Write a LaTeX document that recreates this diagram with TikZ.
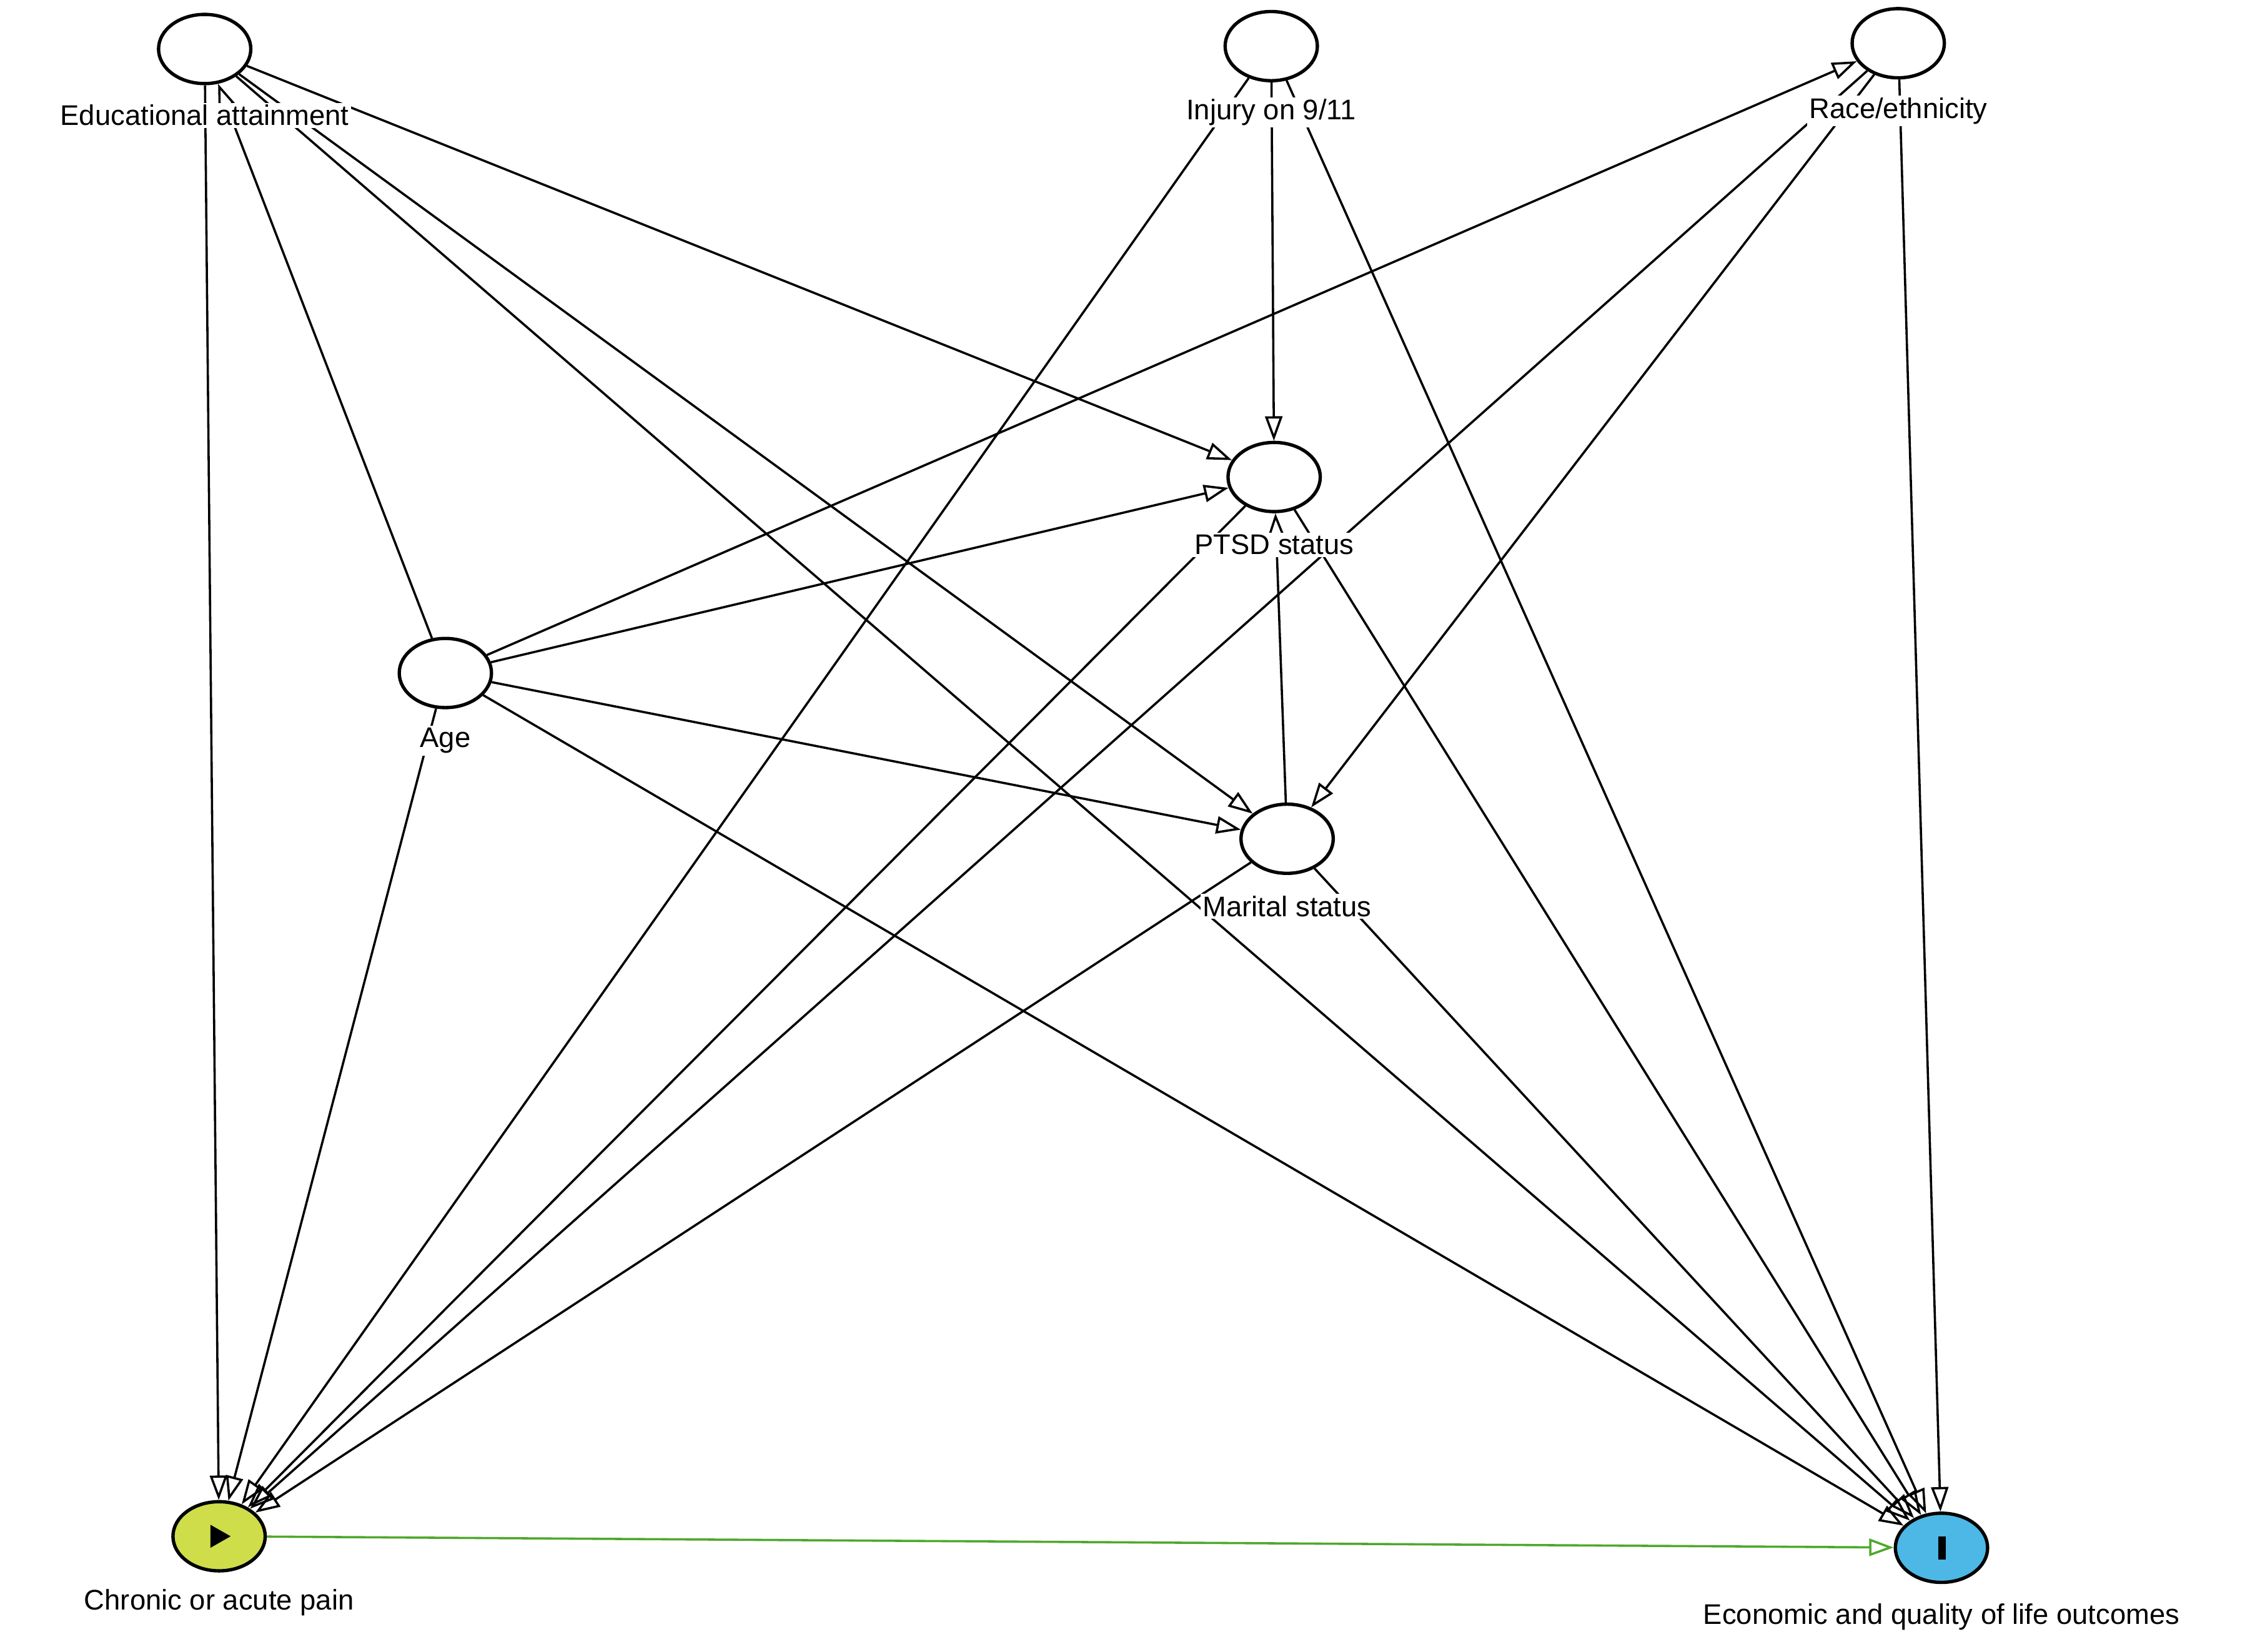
\documentclass[tikz,border=0pt]{standalone}
\usepackage{fontspec}
\setmainfont{Liberation Sans}
\usetikzlibrary{shapes.geometric,arrows.meta}
\definecolor{painc}{HTML}{CFDD4B}
\definecolor{outc}{HTML}{4DB8E6}
\definecolor{grn}{HTML}{4FA82C}
\begin{document}
\begin{tikzpicture}[x=0.05cm,y=-0.05cm,
  v/.style={ellipse,draw,line width=3.3pt,fill=white,minimum width=3.2cm,minimum height=2.4cm,inner sep=0pt},
  lab/.style={fill=white,inner sep=2pt,font=\fontsize{28}{32}\selectfont},
  e/.style={line width=2.2pt,-{Triangle[open,length=0.85cm,width=0.6cm,line width=2.2pt]}}]
\useasboundingbox (0,0) rectangle (1568,1146);
\coordinate (edu) at (142,34);
\coordinate (inj) at (882,32);
\coordinate (race) at (1317,30);
\coordinate (ptsd) at (884,331);
\coordinate (age) at (309,467);
\coordinate (mar) at (893,582);
\coordinate (pain) at (152,1066);
\coordinate (out) at (1347,1074);
\node[v,draw=none,fill=none] (Edu) at (edu) {};
\node[v,draw=none,fill=none] (Inj) at (inj) {};
\node[v,draw=none,fill=none] (Race) at (race) {};
\node[v,draw=none,fill=none] (Ptsd) at (ptsd) {};
\node[v,draw=none,fill=none] (Age) at (age) {};
\node[v,draw=none,fill=none] (Mar) at (mar) {};
\node[v,draw=none,fill=none] (Pain) at (pain) {};
\node[v,draw=none,fill=none] (Out) at (out) {};
% edges
\draw[e] (Edu) -- (Ptsd);
\draw[e] (Edu) -- (Mar);
\draw[e] (Edu) -- (Pain);
\draw[e] (Edu) -- (Out);
\draw[e] (Age) -- (Edu);
\draw[e] (Inj) -- (Ptsd);
\draw[e] (Inj) -- (Pain);
\draw[e] (Inj) -- (Out);
\draw[e] (Race) -- (Out);
\draw[e] (Race) -- (Mar);
\draw[e] (Race) -- (Pain);
\draw[e] (Age) -- (Race);
\draw[e] (Age) -- (Ptsd);
\draw[e] (Age) -- (Mar);
\draw[e] (Age) -- (Pain);
\draw[e] (Age) -- (Out);
\draw[e] (Ptsd) -- (Pain);
\draw[e] (Ptsd) -- (Out);
\draw[e] (Mar) -- (Ptsd);
\draw[e] (Mar) -- (Pain);
\draw[e] (Mar) -- (Out);
\draw[e,draw=grn] (Pain) -- (Out);
% labels
\node[lab] (lEdu) at (142,80) {Educational attainment};
\node[lab] (lInj) at (882,78) {Injury on 9/11};
\node[lab] (lRace) at (1317,77) {Race/ethnicity};
\node[lab] (lPtsd) at (884,378) {PTSD status};
\node[lab] (lAge) at (309,514) {Age};
\node[lab] (lMar) at (893,629) {Marital status};
\node[lab] (lPain) at (152,1112) {Chronic or acute pain};
\node[lab] (lOut) at (1347,1122) {Economic and quality of life outcomes};
% vertices
\node[v] at (edu) {};
\node[v] at (inj) {};
\node[v] at (race) {};
\node[v] at (ptsd) {};
\node[v] at (age) {};
\node[v] at (mar) {};
\node[v,fill=painc] at (pain) {};
\node[v,fill=outc] at (out) {};
\fill (146,1058) -- (146,1074) -- (160,1066) -- cycle;
\fill (1345,1066) rectangle (1350,1082);
\end{tikzpicture}
\end{document}
